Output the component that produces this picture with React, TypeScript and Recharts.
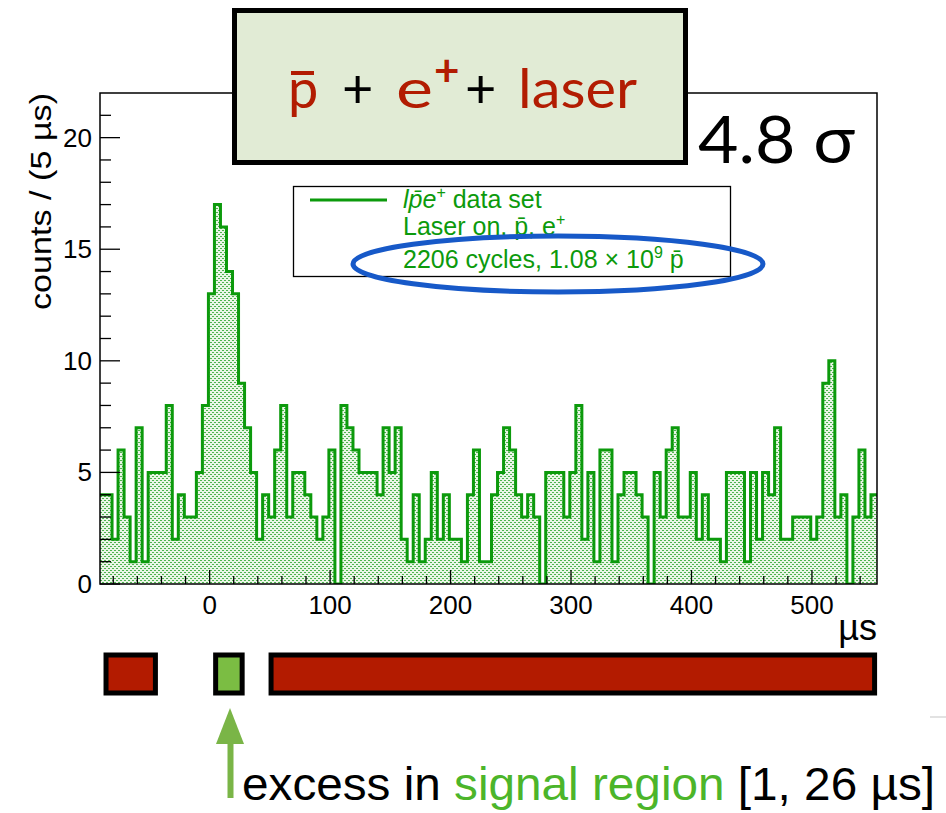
import { ComposedChart, Area, Line, XAxis, YAxis, ReferenceArea } from 'recharts';

// histogram: 5 us bins from X_MIN to X_MAX
const BIN_WIDTH = 5;
const X_MIN = -91;
const X_MAX = 554;
const Y_MAX = 22;

const counts = [
  4, 4, 2, 6, 3, 1, 7, 1, 5, 5,
  5, 8, 2, 4, 3, 3, 5, 8, 13, 17,
  16, 14, 13, 9, 7, 5, 2, 4, 3, 6,
  8, 3, 5, 5, 4, 3, 2, 3, 6, 0,
  8, 7, 6, 5, 5, 5, 4, 7, 5, 7,
  2, 1, 4, 1, 2, 5, 2, 4, 2, 2,
  1, 4, 6, 1, 1, 4, 5, 7, 6, 4,
  3, 4, 3, 0, 5, 5, 5, 3, 5, 8,
  2, 5, 1, 6, 6, 1, 4, 5, 5, 4,
  3, 0, 5, 3, 6, 7, 3, 3, 5, 2,
  4, 2, 2, 1, 5, 5, 5, 1, 5, 2,
  5, 4, 7, 2, 2, 3, 3, 3, 2, 3,
  9, 10, 3, 4, 0, 3, 6, 3, 4,
];

const xTicks = [-80, -60, -40, -20, 0, 20, 40, 60, 80, 100, 120, 140, 160, 180, 200, 220, 240, 260, 280, 300,
  320, 340, 360, 380, 400, 420, 440, 460, 480, 500, 520, 540];
const xLabels = [0, 100, 200, 300, 400, 500];
const yTicks = [0, 1, 2, 3, 4, 5, 6, 7, 8, 9, 10, 11, 12, 13, 14, 15, 16, 17, 18, 19, 20, 21];
const yLabels = [0, 5, 10, 15, 20];

// time regions under the plot
const regionFrom = [-86, 5, 51];
const regionTo = [-45, 27, 552];
const regionKind = ['control', 'signal', 'control'];

const GREEN = '#0c9a0c';
const RED = '#b21c02';
const FONT = '"Liberation Sans", Arial, sans-serif';
const TITLE_FONT = 'Lato, "Open Sans", sans-serif';

const histData = counts.map((c, i) => ({ x: X_MIN + i * BIN_WIDTH, count: c }));
histData.push({ x: X_MAX, count: counts[counts.length - 1] });

const stripData = [{ x: X_MIN, level: 0.5 }, { x: X_MAX, level: 0.5 }];

function XTick(props: any) {
  const { x, y, payload } = props;
  const major = xLabels.includes(payload.value);
  return (
    <g>
      <line x1={x} x2={x} y1={y} y2={y - (major ? 14 : 8)} stroke="#000" strokeWidth={1.3} />
      {major && (
        <text x={x} y={y + 30} textAnchor="middle" fontSize={26} fontFamily={FONT} fill="#000">
          {payload.value}
        </text>
      )}
    </g>
  );
}

function YTick(props: any) {
  const { x, y, payload } = props;
  const major = yLabels.includes(payload.value);
  return (
    <g>
      <line x1={x} x2={x + (major ? 20 : 11)} y1={y} y2={y} stroke="#000" strokeWidth={1.3} />
      {major && (
        <text x={x - 8} y={y + 9} textAnchor="end" fontSize={26} fontFamily={FONT} fill="#000">
          {payload.value}
        </text>
      )}
    </g>
  );
}

export default function App() {
  return (
    <div style={{ position: 'absolute', left: 0, top: 0, width: 946, height: 813, background: '#fff' }}>
      <div style={{ position: 'absolute', left: 0, top: 0 }}>
        <ComposedChart width={946} height={813} data={histData} margin={{ top: 93, right: 69, bottom: 199, left: 0 }}>
          <defs>
            <pattern id="dotFill" width={4} height={4} patternUnits="userSpaceOnUse">
              <rect width={4} height={4} fill="#eaf6e7" />
              <rect x={0} y={0} width={2} height={1} fill="#4fb34f" />
              <rect x={2} y={2} width={2} height={1} fill="#4fb34f" />
            </pattern>
          </defs>
          <XAxis
            type="number"
            dataKey="x"
            domain={[X_MIN, X_MAX]}
            allowDataOverflow
            ticks={xTicks}
            interval={0}
            height={30}
            tickSize={0}
            tickMargin={0}
            axisLine={false}
            tickLine={false}
            tick={<XTick />}
          />
          <YAxis
            type="number"
            domain={[0, Y_MAX]}
            allowDataOverflow
            ticks={yTicks}
            interval={0}
            width={100}
            tickSize={0}
            tickMargin={0}
            axisLine={false}
            tickLine={false}
            tick={<YTick />}
          />
          <Area
            type="stepAfter"
            dataKey="count"
            stroke={GREEN}
            strokeWidth={3}
            fill="url(#dotFill)"
            fillOpacity={1}
            baseValue={0}
            dot={false}
            activeDot={false}
            isAnimationActive={false}
          />
          <ReferenceArea x1={X_MIN} x2={X_MAX} y1={0} y2={Y_MAX} fill="none" stroke="#000" strokeWidth={1.5} ifOverflow="visible" />
        </ComposedChart>
      </div>

      <div style={{ position: 'absolute', left: 0, top: 0 }}>
        <ComposedChart width={946} height={813} data={stripData} margin={{ top: 655, right: 69, bottom: 120, left: 100 }}>
          <XAxis type="number" dataKey="x" domain={[X_MIN, X_MAX]} hide />
          <YAxis type="number" domain={[0, 1]} hide />
          <Line dataKey="level" stroke="none" dot={false} activeDot={false} isAnimationActive={false} />
          {regionFrom.map((from, i) => (
            <ReferenceArea
              key={i}
              x1={from}
              x2={regionTo[i]}
              y1={0}
              y2={1}
              fill={regionKind[i] === 'signal' ? '#7bbd43' : '#b31b00'}
              fillOpacity={1}
              stroke="#000"
              strokeWidth={5}
              ifOverflow="visible"
            />
          ))}
        </ComposedChart>
      </div>

      <svg width={946} height={813} style={{ position: 'absolute', left: 0, top: 0, pointerEvents: 'none' }}>
        {/* title box */}
        <rect x={234.5} y={10.5} width={451} height={152} fill="#e1ebd5" stroke="#000" strokeWidth={5} />
        <g fontFamily={TITLE_FONT} fontSize={54}>
          <text x={288} y={108} fill={RED}>p</text>
          <line x1={291} x2={314} y1={73} y2={73} stroke={RED} strokeWidth={4} />
          <text x={342} y={108} fill="#000">+</text>
          <text x={396} y={108} fill={RED} textLength={37} lengthAdjust="spacingAndGlyphs">e</text>
          <text x={434} y={86} fill={RED} fontSize={44} fontWeight={700}>+</text>
          <text x={465} y={108} fill="#000">+</text>
          <text x={518} y={108} fill={RED} textLength={119} lengthAdjust="spacingAndGlyphs">laser</text>
        </g>
        <text x={698} y={163} fontFamily={TITLE_FONT} fontSize={66} fill="#000" textLength={157} lengthAdjust="spacingAndGlyphs">
          4.8 σ
        </text>

        {/* legend */}
        <rect x={293.5} y={186.5} width={437} height={90} fill="#fff" stroke="#000" strokeWidth={1.3} />
        <line x1={310} x2={387} y1={200} y2={200} stroke={GREEN} strokeWidth={3} />
        <g fontFamily={FONT} fontSize={25} fill={GREEN}>
          <text x={403} y={208}>
            <tspan fontStyle="italic">lp&#772;e</tspan>
            <tspan fontSize={16} dy={-10}>+</tspan>
            <tspan dy={10}> data set</tspan>
          </text>
          <text x={403} y={235}>
            Laser on, p&#772;, e<tspan fontSize={16} dy={-10}>+</tspan>
          </text>
          <text x={403} y={268}>
            2206 cycles, 1.08 × 10<tspan fontSize={16} dy={-10}>9</tspan>
            <tspan dy={10}> p&#772;</tspan>
          </text>
        </g>
        <ellipse cx={558} cy={264} rx={205} ry={28} fill="none" stroke="#1759c8" strokeWidth={5} />

        {/* axis titles */}
        <text
          transform="translate(51,93) rotate(-90)"
          textAnchor="end"
          fontFamily={FONT}
          fontSize={30}
          fill="#000"
          textLength={217}
          lengthAdjust="spacingAndGlyphs"
        >
          counts / (5 µs)
        </text>
        <text x={877} y={640} textAnchor="end" fontFamily={FONT} fontSize={36} fill="#000">µs</text>

        {/* signal region arrow + caption */}
        <polygon points="230,708 216,744 244,744" fill="#7ab547" />
        <rect x={227.5} y={742} width={6} height={56} fill="#7ab547" />
        <text x={242} y={800} fontFamily={FONT} fontSize={46} fill="#000" textLength={693} lengthAdjust="spacingAndGlyphs">
          excess in <tspan fill="#4cb52a">signal region</tspan> [1, 26 µs]
        </text>
        <line x1={930} x2={946} y1={717} y2={717} stroke="#e2e2e2" strokeWidth={2} />
      </svg>
    </div>
  );
}
